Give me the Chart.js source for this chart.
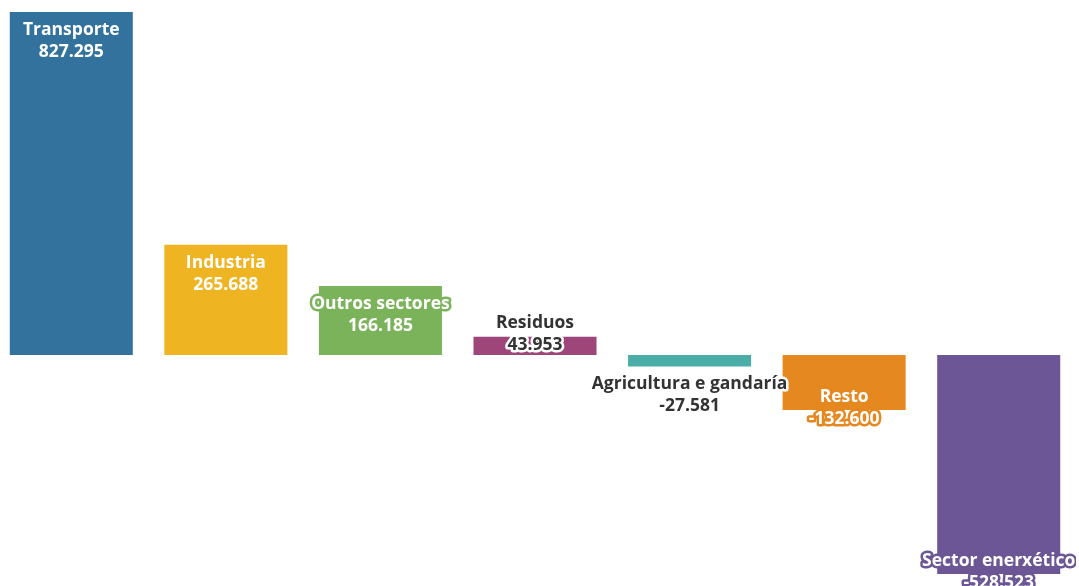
<!DOCTYPE html>
<html>
<head>
<meta charset="utf-8">
<script src="https://cdn.jsdelivr.net/npm/chart.js@4"></script>
<style>
  html,body{margin:0;padding:0;background:#fff;overflow:hidden;}
  #wrap{position:absolute;left:-6px;top:0;width:1082px;height:586px;}
</style>
</head>
<body>
<div id="wrap"><canvas id="chart"></canvas></div>
<script>
// emisións por sector (t CO2 eq)
const sectors = ['Transporte','Industria','Outros sectores','Residuos','Agricultura e gandaría','Resto','Sector enerxético'];
const values = [827295, 265688, 166185, 43953, -27581, -132600, -528523];
const colors = ['#32729c','#efb422','#7bb35a','#9e4679','#4bada7','#e5881f','#6c5695'];

const fmt = v => (v < 0 ? '-' : '') + Math.abs(v).toString().replace(/\B(?=(\d{3})+(?!\d))/g, '.');

// labels with halo, placed near the bar end
const labelPlugin = {
  id: 'barLabels',
  afterDatasetsDraw(chart){
    const ctx = chart.ctx;
    const meta = chart.getDatasetMeta(0);
    const zero = chart.scales.y.getPixelForValue(0);
    ctx.save();
    ctx.font = 'bold 17.5px "Open Sans"';
    ctx.textAlign = 'center';
    ctx.textBaseline = 'middle';
    ctx.lineJoin = 'round';
    meta.data.forEach((bar, i) => {
      const v = values[i];
      const h = Math.abs(bar.y - zero);
      const inside = h > 30;
      let cy;
      if(v >= 0) cy = inside ? bar.y + 27 : bar.y - 5;
      else cy = inside ? bar.y - 4 : bar.y + 27;
      cy += 2; // Open Sans sits a bit high at 'middle'
      const lines = [sectors[i], fmt(v)];
      lines.forEach((t, k) => {
        const y = cy - 11 + k * 22;
        ctx.lineWidth = 5;
        ctx.strokeStyle = inside ? colors[i] : '#ffffff';
        ctx.strokeText(t, bar.x, y);
        ctx.fillStyle = inside ? '#ffffff' : '#333333';
        ctx.fillText(t, bar.x, y);
      });
    });
    ctx.restore();
  }
};

new Chart(document.getElementById('chart'), {
  type: 'bar',
  data: {
    labels: sectors,
    datasets: [{
      data: values,
      backgroundColor: colors,
      borderWidth: 0,
      barPercentage: 1,
      categoryPercentage: 0.796
    }]
  },
  options: {
    responsive: true,
    maintainAspectRatio: false,
    animation: false,
    layout: { padding: 0 },
    plugins: { legend: { display: false }, tooltip: { enabled: false } },
    scales: {
      x: { display: false },
      y: { display: false, min: -557200, max: 856200 }
    }
  },
  plugins: [labelPlugin]
});
</script>
</body>
</html>
